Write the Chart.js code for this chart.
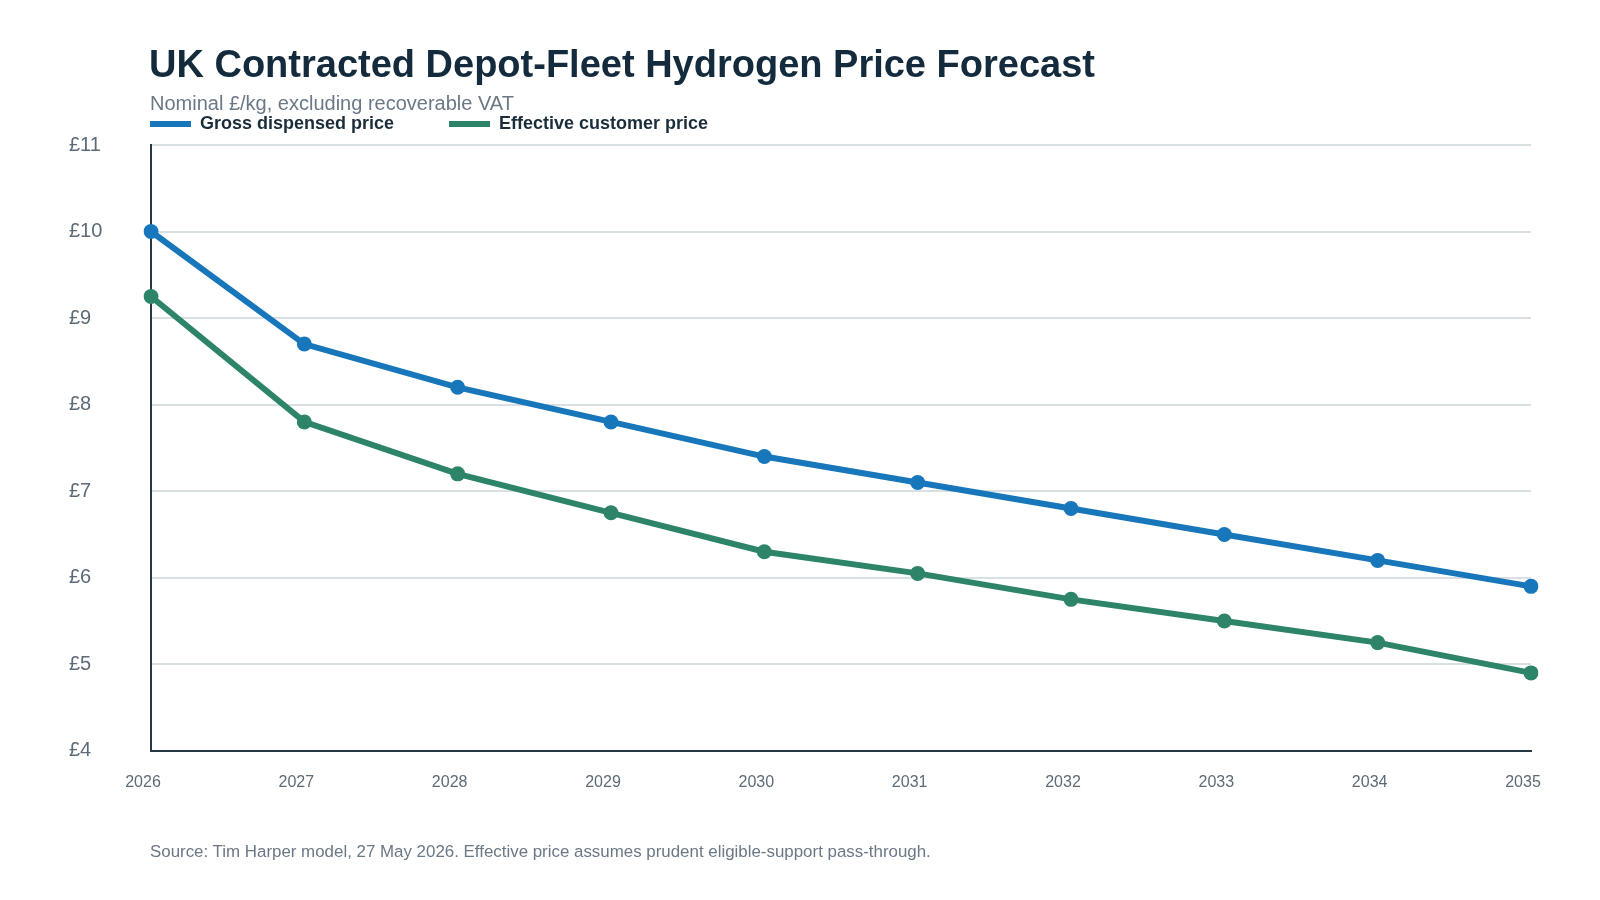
<!DOCTYPE html>
<html>
<head>
<meta charset="utf-8">
<script src="https://cdn.jsdelivr.net/npm/chart.js@4/dist/chart.umd.min.js"></script>
<style>
  html, body { margin: 0; padding: 0; background: #ffffff; }
  body { width: 1600px; height: 900px; position: relative; overflow: hidden; font-family: "Liberation Sans", Arial, sans-serif; }
  #wrap { position: absolute; left: 0; top: 0; width: 1600px; height: 900px; }
  .title { position: absolute; left: 149px; top: 43px; font-size: 38px; font-weight: bold; color: #132b3c; white-space: nowrap; }
  .subtitle { position: absolute; left: 150px; top: 92px; font-size: 20px; color: #6b7885; white-space: nowrap; }
  .legend { position: absolute; left: 150px; top: 112px; height: 22px; white-space: nowrap; }
  .legend .item { position: absolute; top: 0; height: 22px; }
  .legend .sw { position: absolute; left: 0; top: 9px; width: 41px; height: 6px; }
  .legend .lbl { position: absolute; left: 50px; top: 0; font-size: 18px; font-weight: bold; color: #1c2d3a; line-height: 22px; }
  .source { position: absolute; left: 150px; top: 842px; font-size: 16.9px; color: #6b7885; white-space: nowrap; }
</style>
</head>
<body>
<div id="wrap"><canvas id="c" width="1600" height="900"></canvas></div>
<div class="title" id="title"></div>
<div class="subtitle" id="subtitle"></div>
<div class="legend" id="legend"></div>
<div class="source" id="source"></div>
<script>
const titleText = "UK Contracted Depot-Fleet Hydrogen Price Forecast";
const subtitleText = "Nominal £/kg, excluding recoverable VAT";
const sourceText = "Source: Tim Harper model, 27 May 2026. Effective price assumes prudent eligible-support pass-through.";

const years = ["2026", "2027", "2028", "2029", "2030", "2031", "2032", "2033", "2034", "2035"];
const grossPrice = [10.0, 8.7, 8.2, 7.8, 7.4, 7.1, 6.8, 6.5, 6.2, 5.9];
const effectivePrice = [9.25, 7.8, 7.2, 6.75, 6.3, 6.05, 5.75, 5.5, 5.25, 4.9];
const seriesNames = ["Gross dispensed price", "Effective customer price"];
const seriesColors = ["#1877bb", "#2e8468"];
const yTicks = [4, 5, 6, 7, 8, 9, 10, 11];

document.getElementById("title").textContent = titleText;
document.getElementById("subtitle").textContent = subtitleText;
document.getElementById("source").textContent = sourceText;

const legendEl = document.getElementById("legend");
const legendX = [0, 299];
seriesNames.forEach((n, i) => {
  const it = document.createElement("div");
  it.className = "item";
  it.style.left = legendX[i] + "px";
  const sw = document.createElement("div");
  sw.className = "sw";
  sw.style.background = seriesColors[i];
  const lb = document.createElement("div");
  lb.className = "lbl";
  lb.textContent = n;
  it.appendChild(sw); it.appendChild(lb);
  legendEl.appendChild(it);
});

const ctx = document.getElementById("c").getContext("2d");
new Chart(ctx, {
  type: "line",
  data: {
    labels: years,
    datasets: [
      {
        label: seriesNames[0], data: grossPrice,
        borderColor: seriesColors[0], backgroundColor: seriesColors[0],
        borderWidth: 6, pointRadius: 7.5, pointHoverRadius: 7.5, pointBorderWidth: 0,
        tension: 0, fill: false
      },
      {
        label: seriesNames[1], data: effectivePrice,
        borderColor: seriesColors[1], backgroundColor: seriesColors[1],
        borderWidth: 6, pointRadius: 7.5, pointHoverRadius: 7.5, pointBorderWidth: 0,
        tension: 0, fill: false
      }
    ]
  },
  options: {
    responsive: false,
    animation: false,
    devicePixelRatio: 1,
    layout: { padding: { left: 69, right: 69, top: 145, bottom: 86 } },
    plugins: {
      legend: { display: false },
      title: { display: false },
      tooltip: { enabled: false }
    },
    scales: {
      x: {
        type: "category",
        offset: false,
        grid: { display: false, drawTicks: false },
        border: { display: true, color: "#243743", width: 2 },
        ticks: { color: "#5d6b77", font: { family: "Liberation Sans", size: 16 }, padding: 22, labelOffset: -8, maxRotation: 0, autoSkip: false }
      },
      y: {
        min: 4, max: 11,
        afterBuildTicks: (s) => { s.ticks = yTicks.map(v => ({ value: v })); },
        afterFit: (s) => { s.width = 82; },
        grid: { color: "#d9e0e4", lineWidth: 2, drawTicks: false },
        border: { display: true, color: "#243743", width: 2 },
        ticks: {
          color: "#5d6b77", font: { family: "Liberation Sans", size: 20 },
          crossAlign: "far", padding: 10,
          callback: (v) => "£" + v
        }
      }
    }
  }
});
</script>
</body>
</html>
